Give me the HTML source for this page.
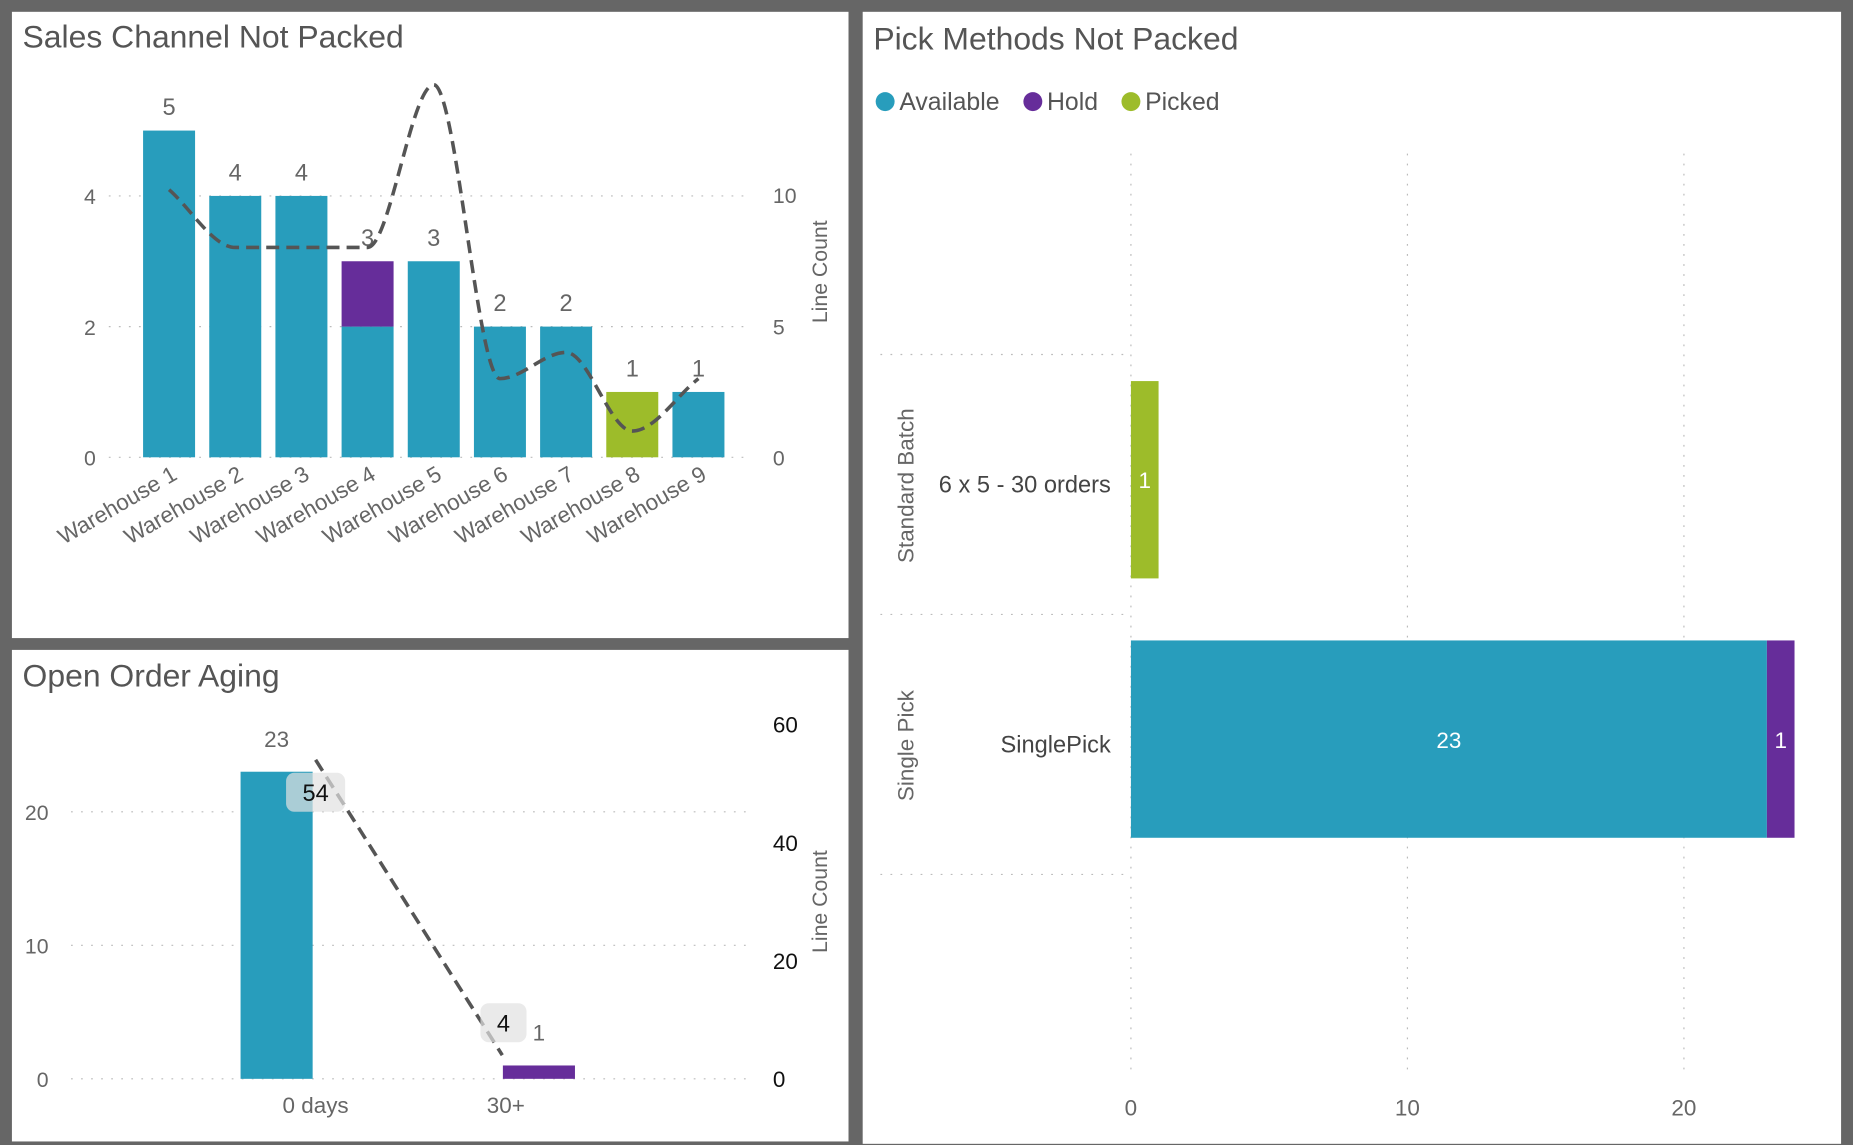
<!DOCTYPE html>
<html><head><meta charset="utf-8">
<style>
html,body{margin:0;padding:0;background:#666;}
svg{display:block;font-family:"Liberation Sans",sans-serif;}
</style></head>
<body>
<svg id="root" width="1853" height="1145" viewBox="0 0 1568 969" xmlns="http://www.w3.org/2000/svg">
<rect x="0" y="0" width="1568" height="969" fill="#666"/>
<rect x="10" y="10" width="708" height="530" fill="#fff"/>
<rect x="10" y="550" width="708" height="416" fill="#fff"/>
<rect x="730" y="10" width="828" height="958" fill="#fff"/>
<text x="19" y="40" font-size="27" fill="#555">Sales Channel Not Packed</text>
<text x="19" y="581" font-size="27" fill="#555">Open Order Aging</text>
<text x="739" y="42" font-size="27" fill="#555">Pick Methods Not Packed</text>
<g id="c1"></g><g id="c2"></g><g id="c3"></g>
</svg>
<script>
// ---- Chart 1 data ----
const whCats = ["Warehouse 1","Warehouse 2","Warehouse 3","Warehouse 4","Warehouse 5","Warehouse 6","Warehouse 7","Warehouse 8","Warehouse 9"];
const whAvailable = [5,4,4,2,3,2,2,0,1];
const whHold = [0,0,0,1,0,0,0,0,0];
const whPicked = [0,0,0,0,0,0,0,1,0];
const whLineCount = [10.2,8,8,8,14.2,3,4,1,3];
const whLeftTicks = [0,2,4];
const whRightTicks = [0,5,10];
// ---- Chart 2 data ----
const ageCats = ["0 days","30+"];
const ageAvailable = [23,0];
const ageHold = [0,1];
const ageLineCount = [54,4];
const ageLeftTicks = [0,10,20];
const ageRightTicks = [0,20,40,60];
// ---- Chart 3 data ----
const pickGroups = ["Standard Batch","Single Pick"];
const pickCats = ["6 x 5 - 30 orders","SinglePick"];
const pickAvailable = [0,23];
const pickHold = [0,1];
const pickPicked = [1,0];
const pickTicks = [0,10,20];

const NS="http://www.w3.org/2000/svg";
const TEAL="#289DBC",PURP="#662D9A",GREEN="#9DBC2A",GRAY="#666";
function mk(parent,tag,attrs,text){const e=document.createElementNS(NS,tag);for(const k in attrs)e.setAttribute(k,attrs[k]);if(text!==undefined)e.textContent=text;parent.appendChild(e);return e;}
function monotone(pts){
 const n=pts.length,dx=[],s=[],m=[];
 for(let i=0;i<n-1;i++){dx.push(pts[i+1][0]-pts[i][0]);s.push((pts[i+1][1]-pts[i][1])/dx[i]);}
 m[0]=s[0];m[n-1]=s[n-2];
 for(let i=1;i<n-1;i++){m[i]=(s[i-1]*s[i]<=0)?0:(3*(dx[i-1]+dx[i]))/((2*dx[i]+dx[i-1])/s[i-1]+(dx[i]+2*dx[i-1])/s[i]);}
 let d="M"+pts[0][0]+","+pts[0][1];
 for(let i=0;i<n-1;i++){const h=dx[i]/3;d+=" C"+(pts[i][0]+h)+","+(pts[i][1]+m[i]*h)+" "+(pts[i+1][0]-h)+","+(pts[i+1][1]-m[i+1]*h)+" "+pts[i+1][0]+","+pts[i+1][1];}
 return d;}

// ---- Chart 1 ----
(function(){
const g=document.getElementById('c1');
const y0=387, yL=v=>y0-v*55.3, yR=v=>y0-v*22.2, xC=i=>143+i*56, bw=44;
whLeftTicks.forEach(t=>{
 const l=mk(g,'line',{x1:92,x2:636,y1:yL(t),y2:yL(t),stroke:"#bbb","stroke-dasharray":"1.5 7"});
 
 const tx=mk(g,'text',{x:81,y:yL(t)+7,"font-size":18,fill:GRAY,"text-anchor":"end"},t);
 
});
whRightTicks.forEach(t=>{
 const tx=mk(g,'text',{x:654,y:yR(t)+7,"font-size":18,fill:GRAY},t);
 
});
const lc=mk(g,'text',{x:0,y:0,"font-size":18,fill:GRAY,"text-anchor":"middle",transform:"translate(700,230) rotate(-90)"},"Line Count");

whCats.forEach((c,i)=>{
 let base=0;
 [[whAvailable,TEAL],[whHold,PURP],[whPicked,GREEN]].forEach(([arr,col])=>{
  const v=arr[i]; if(!v) return;
  const r=mk(g,'rect',{x:xC(i)-bw/2,y:yL(base+v),width:bw,height:yL(base)-yL(base+v),fill:col});
  
  base+=v;
 });
 const lb=mk(g,'text',{x:xC(i),y:yL(base)-13,"font-size":20,fill:GRAY,"text-anchor":"middle"},base);
 
 const cl=mk(g,'text',{x:0,y:0,"font-size":19,fill:GRAY,"text-anchor":"end",transform:"translate("+(xC(i)+8)+",405) rotate(-30)"},c);
 
});
const p=mk(g,'path',{d:monotone(whLineCount.map((v,i)=>[xC(i),yR(v)])),fill:"none",stroke:"#555","stroke-width":3,"stroke-dasharray":"11 6"});

})();

// ---- Chart 2 ----
(function(){
const g=document.getElementById('c2');
const y0=913, yL=v=>y0-v*11.3, yR=v=>y0-v*5, xC=i=>267+i*161, bw=61;
ageLeftTicks.forEach(t=>{
 const l=mk(g,'line',{x1:60,x2:636,y1:yL(t),y2:yL(t),stroke:"#bbb","stroke-dasharray":"1.5 7"});
 
 const tx=mk(g,'text',{x:41,y:yL(t)+7,"font-size":18,fill:GRAY,"text-anchor":"end"},t);
 
});
ageRightTicks.forEach(t=>{
 const tx=mk(g,'text',{x:654,y:yR(t)+7,"font-size":19,fill:"#111"},t);
 
});
const lc=mk(g,'text',{x:0,y:0,"font-size":18,fill:GRAY,"text-anchor":"middle",transform:"translate(700,763) rotate(-90)"},"Line Count");

ageCats.forEach((c,i)=>{
 [[ageAvailable,TEAL,-33],[ageHold,PURP,28]].forEach(([arr,col,off])=>{
  const v=arr[i]; if(!v) return;
  const cx=xC(i)+off;
  const r=mk(g,'rect',{x:cx-bw/2,y:yL(v),width:bw,height:yL(0)-yL(v),fill:col});
  
  const lb=mk(g,'text',{x:cx,y:yL(v)-21,"font-size":19,fill:GRAY,"text-anchor":"middle"},v);
  
 });
 const cl=mk(g,'text',{x:xC(i),y:942,"font-size":19,fill:GRAY,"text-anchor":"middle"},c);
 
});
const pts=ageLineCount.map((v,i)=>[xC(i)+(i?-3:0),yR(v)]);
const p=mk(g,'path',{d:"M"+pts.map(q=>q.join(",")).join(" L"),fill:"none",stroke:"#555","stroke-width":3,"stroke-dasharray":"11 6"});

ageLineCount.forEach((v,i)=>{
 const w=String(v).length>1?50:39;
 const cx=pts[i][0]+(i?1:0), cy=pts[i][1]+(i?-27:28);
 const b=mk(g,'rect',{x:cx-w/2,y:cy-17,width:w,height:33,rx:7,fill:"rgba(225,225,225,0.7)"});
 
 const t=mk(g,'text',{x:cx,y:cy+7,"font-size":20,fill:"#111","text-anchor":"middle"},v);
 
});
})();

// ---- Chart 3 ----
(function(){
const g=document.getElementById('c3');
const x0=957, xS=v=>x0+v*23.4, yC=i=>406+i*220, bh=167;
[[TEAL,"Available",749],[PURP,"Hold",874],[GREEN,"Picked",957]].forEach(([col,lab,x])=>{
 const c=mk(g,'circle',{cx:x,cy:86,r:8,fill:col});
 
 const t=mk(g,'text',{x:x+12,y:93,"font-size":21,fill:"#555"},lab);
 
});
pickTicks.forEach(t=>{
 const l=mk(g,'line',{x1:xS(t),x2:xS(t),y1:130,y2:912,stroke:"#bbb","stroke-dasharray":"1.5 7"});
 
 const tx=mk(g,'text',{x:xS(t),y:944,"font-size":19,fill:GRAY,"text-anchor":"middle"},t);
 
});
[300,520,740].forEach(y=>{
 const l=mk(g,'line',{x1:745,x2:955,y1:y,y2:y,stroke:"#bbb","stroke-dasharray":"1.5 7"});
 
});
pickCats.forEach((c,i)=>{
 const gl=mk(g,'text',{x:0,y:0,"font-size":19,fill:GRAY,"text-anchor":"middle",transform:"translate(773,"+(yC(i)+5)+") rotate(-90)"},pickGroups[i]);
 
 const cl=mk(g,'text',{x:940,y:yC(i)+11,"font-size":20,fill:"#444","text-anchor":"end"},c);
 
 let base=0;
 [[pickAvailable,TEAL],[pickHold,PURP],[pickPicked,GREEN]].forEach(([arr,col])=>{
  const v=arr[i]; if(!v) return;
  const r=mk(g,'rect',{x:xS(base),y:yC(i)-bh/2+(i?-0.5:0),width:xS(base+v)-xS(base),height:bh,fill:col});
  
  const t=mk(g,'text',{x:(xS(base)+xS(base+v))/2,y:yC(i)+7,"font-size":19,fill:"#fff","text-anchor":"middle"},v);
  
  base+=v;
 });
});
})();
</script>
</body></html>
